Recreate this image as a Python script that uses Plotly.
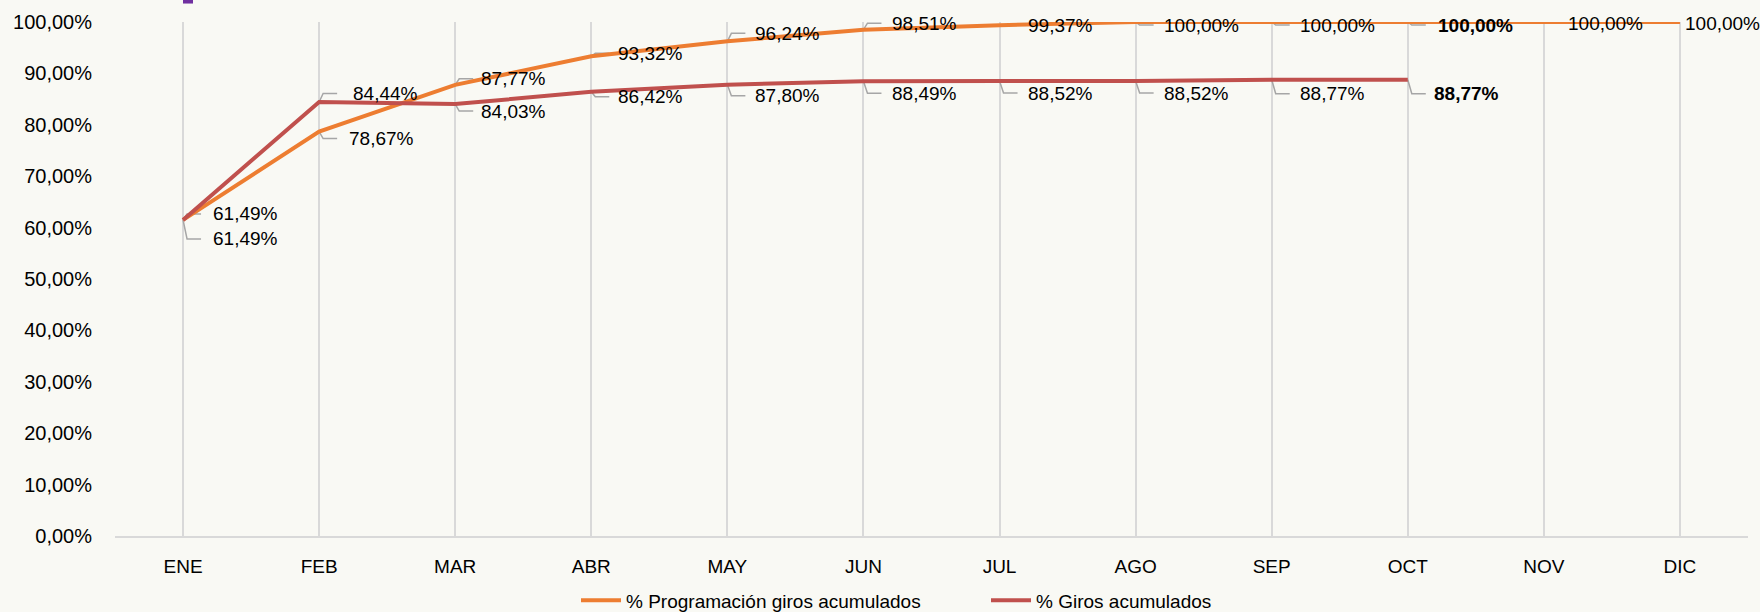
import plotly.graph_objects as go

# ---------------- data ----------------
months = ["ENE", "FEB", "MAR", "ABR", "MAY", "JUN", "JUL", "AGO", "SEP", "OCT", "NOV", "DIC"]
prog_acum = [61.49, 78.67, 87.77, 93.32, 96.24, 98.51, 99.37, 100.00, 100.00, 100.00, 100.00, 100.00]
giros_acum = [61.49, 84.44, 84.03, 86.42, 87.80, 88.49, 88.52, 88.52, 88.77, 88.77]
series_names = ["% Programación giros acumulados", "% Giros acumulados"]
y_ticks = [0, 10, 20, 30, 40, 50, 60, 70, 80, 90, 100]

# ---------------- styling ----------------
W, H = 1760, 612
M_L, M_R, M_T, M_B = 115, 12, 21.5, 75.5
PW, PH = W - M_L - M_R, H - M_T - M_B
PX_X = PW / 12.0          # pixels per category
PX_Y = PH / 100.0         # pixels per percent

ORANGE = "#ED7D31"
RED = "#C0504D"
GRID = "#D9D9D9"
LEADER = "#A6A6A6"
BG = "#F9F9F4"
FONT = "Liberation Sans, Arial, sans-serif"

# label placement (screen px; positive dy = below the point)
prog_dy = [19, 7, -6, -3, -8, -6.5, 0, 3, 3, 3, 1.5, 1.5]
prog_dx = [28, 28, 24, 25, 26, 27, 26, 26, 26, 28, 22, 3]
prog_leader = [True] * 10 + [False, False]
giros_dy = [-6, -8.5, 7, 5, 11, 12, 12, 12, 14, 14]
giros_dx = [28, 32, 24, 25, 26, 27, 26, 26, 26, 24]
bold_idx = 9


def fmt(v):
    return f"{v:.2f}%".replace(".", ",")


x_idx = list(range(len(months)))

fig = go.Figure()

# leader lines
lx, ly = [], []
for vals, dys, leaders in ((prog_acum, prog_dy, prog_leader), (giros_acum, giros_dy, [True] * len(giros_acum))):
    for i, v in enumerate(vals):
        if not leaders[i]:
            continue
        dy = dys[i]
        lx += [i, i + 4 / PX_X, i + 18 / PX_X, None]
        ly += [v, v - dy / PX_Y, v - dy / PX_Y, None]
fig.add_trace(go.Scatter(x=lx, y=ly, mode="lines", line=dict(color=LEADER, width=1.5),
                         hoverinfo="skip", showlegend=False, cliponaxis=False))

fig.add_trace(go.Scatter(x=x_idx[:len(prog_acum)], y=prog_acum, mode="lines", name=series_names[0],
                         line=dict(color=ORANGE, width=4), cliponaxis=False))
fig.add_trace(go.Scatter(x=x_idx[:len(giros_acum)], y=giros_acum, mode="lines", name=series_names[1],
                         line=dict(color=RED, width=4), cliponaxis=False))

annotations = []
for vals, dys, dxs in ((prog_acum, prog_dy, prog_dx), (giros_acum, giros_dy, giros_dx)):
    for i, v in enumerate(vals):
        txt = fmt(v)
        if i == bold_idx:
            txt = f"<b>{txt}</b>"
        annotations.append(dict(x=i, y=v, xref="x", yref="y", text=txt, showarrow=False,
                                xanchor="left", yanchor="middle", xshift=dxs[i], yshift=-dys[i],
                                font=dict(family=FONT, size=19, color="#000000")))

fig.update_layout(
    width=W, height=H,
    margin=dict(l=M_L, r=M_R, t=M_T, b=M_B, pad=0, autoexpand=False),
    paper_bgcolor=BG, plot_bgcolor=BG,
    font=dict(family=FONT, size=19, color="#000000"),
    annotations=annotations,
    showlegend=True,
    legend=dict(orientation="h", x=(576 - M_L) / PW, xref="paper", xanchor="left",
                y=-(601 - (H - M_B)) / PH, yref="paper", yanchor="middle",
                font=dict(family=FONT, size=19, color="#000000"),
                bgcolor="rgba(0,0,0,0)", entrywidth=355, entrywidthmode="pixels",
                itemwidth=40, tracegroupgap=0),
    shapes=[dict(type="rect", xref="paper", yref="paper",
                 x0=(183 - M_L) / PW, x1=(193 - M_L) / PW,
                 y0=(H - M_B - 3) / PH, y1=(H - M_B + 2) / PH,
                 fillcolor="#7030A0", line=dict(width=0))],
)

fig.update_xaxes(range=[-0.5, 11.5], tickmode="array", tickvals=x_idx, ticktext=months,
                 showgrid=True, gridcolor=GRID, gridwidth=1.5,
                 showline=True, linecolor=GRID, linewidth=2,
                 zeroline=False, ticks="", ticklabelstandoff=12,
                 tickfont=dict(family=FONT, size=19, color="#000000"), fixedrange=True)
fig.update_yaxes(range=[0, 100], tickmode="array", tickvals=y_ticks, ticktext=[fmt(t) for t in y_ticks],
                 showgrid=False, zeroline=False, showline=False, ticks="",
                 ticklabelstandoff=22,
                 tickfont=dict(family=FONT, size=20, color="#000000"), fixedrange=True)

fig.write_html(
    "out.html",
    config={"displayModeBar": False},
    post_script=("document.body.style.margin='0';document.body.style.overflow='hidden';"
                 "document.body.style.background='" + BG + "';"),
)
